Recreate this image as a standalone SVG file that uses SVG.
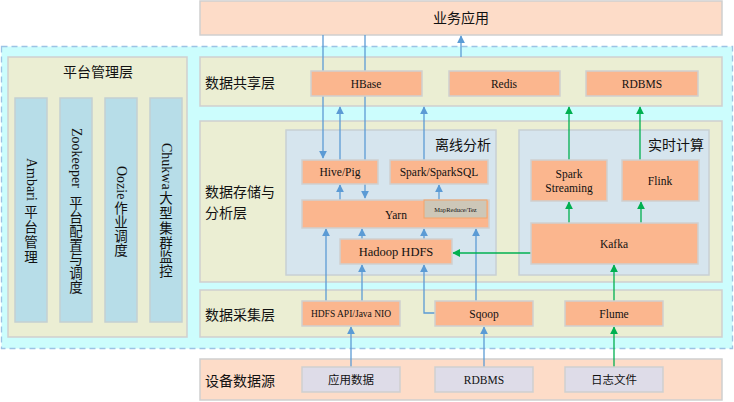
<svg xmlns="http://www.w3.org/2000/svg" width="734" height="402" viewBox="0 0 734 402">
<defs>
<marker id="ab" viewBox="0 0 10 10" refX="9" refY="5" markerWidth="8" markerHeight="8" markerUnits="userSpaceOnUse" orient="auto"><path d="M0,0 L10,5 L0,10 z" fill="#5b9bd5"/></marker>
<marker id="ag" viewBox="0 0 10 10" refX="9" refY="5" markerWidth="8" markerHeight="8" markerUnits="userSpaceOnUse" orient="auto"><path d="M0,0 L10,5 L0,10 z" fill="#00b050"/></marker>
</defs>
<style>
text{font-family:"Liberation Serif","Noto Sans CJK SC",serif;fill:#111;}
.peach{fill:#fddcc8;stroke:#cfcfcf;stroke-width:1.5}
.panel{fill:#ebeed3;stroke:#cfcfcf;stroke-width:1.5}
.inner{fill:#d6e5ee;stroke:#c8cfd4;stroke-width:1.5}
.box{fill:#fbb68e;stroke:#cfcfcf;stroke-width:1.5}
.src{fill:#dedce8;stroke:#cfcfcf;stroke-width:1.5}
.bar{fill:#b7dde8;stroke:#c4cfd2;stroke-width:1.5}
.lbl{font-size:11.5px;text-anchor:middle}
.layer{font-size:14px}
.rot{font-size:14px;dominant-baseline:central}
.cj{font-size:13.5px;text-anchor:middle;dominant-baseline:central}
.b{stroke:#5b9bd5;stroke-width:1.3;fill:none}
.g{stroke:#00b050;stroke-width:1.3;fill:none}
</style>
<rect x="1.5" y="46.5" width="731" height="302" fill="#ccfdfd" stroke="#9cc3e5" stroke-width="1.3" stroke-dasharray="6,4"/>
<g id="app"><rect class="peach" x="200" y="1" width="522" height="34"/><text x="461" y="23" class="layer" text-anchor="middle">业务应用</text></g>
<g id="mgmt">
<rect class="panel" x="8" y="57" width="179" height="280"/>
<text x="98" y="77" class="layer" text-anchor="middle">平台管理层</text>
<rect class="bar" x="15" y="98" width="32" height="224"/>
<rect class="bar" x="60" y="98" width="32" height="224"/>
<rect class="bar" x="105" y="98" width="32" height="224"/>
<rect class="bar" x="150" y="98" width="32" height="224"/>
<text class="rot" transform="translate(31,158) rotate(90)">Ambari</text>
<text class="cj"><tspan x="31" y="212">平</tspan><tspan x="31" y="227">台</tspan><tspan x="31" y="242">管</tspan><tspan x="31" y="257">理</tspan></text>
<text class="rot" transform="translate(76,128) rotate(90)">Zookeeper</text>
<text class="cj"><tspan x="76" y="203">平</tspan><tspan x="76" y="217">台</tspan><tspan x="76" y="231">配</tspan><tspan x="76" y="245">置</tspan><tspan x="76" y="259">与</tspan><tspan x="76" y="273">调</tspan><tspan x="76" y="287">度</tspan></text>
<text class="rot" transform="translate(121,166) rotate(90)">Oozie</text>
<text class="cj"><tspan x="121" y="208">作</tspan><tspan x="121" y="222">业</tspan><tspan x="121" y="236">调</tspan><tspan x="121" y="250">度</tspan></text>
<text class="rot" transform="translate(166,143) rotate(90)">Chukwa</text>
<text class="cj"><tspan x="166" y="198">大</tspan><tspan x="166" y="213">型</tspan><tspan x="166" y="228">集</tspan><tspan x="166" y="243">群</tspan><tspan x="166" y="257">监</tspan><tspan x="166" y="271">控</tspan></text>
</g>
<g id="share">
<rect class="panel" x="200" y="57" width="522" height="49"/>
<text x="205" y="88" class="layer">数据共享层</text>
</g>
<g id="store">
<rect class="panel" x="200" y="121" width="522" height="161"/>
<text x="205" y="197" class="layer">数据存储与</text>
<text x="205" y="218" class="layer">分析层</text>
</g>
<g id="offline"><rect class="inner" x="286" y="130" width="210" height="145"/><text x="491" y="150" class="layer" text-anchor="end">离线分析</text></g>
<g id="realtime"><rect class="inner" x="519" y="130" width="190" height="145"/><text x="704" y="150" class="layer" text-anchor="end">实时计算</text></g>
<g id="collect">
<rect class="panel" x="200" y="290" width="522" height="47"/>
<text x="205" y="320" class="layer">数据采集层</text>
</g>
<g id="source">
<rect class="peach" x="200" y="359" width="522" height="41"/>
<text x="205" y="386" class="layer">设备数据源</text>
</g>
<g id="connectors">
<path class="b" d="M323,35 V158" marker-end="url(#ab)"/>
<path class="b" d="M365,35 V198" marker-end="url(#ab)"/>
<path class="b" d="M340,160 V107" marker-end="url(#ab)"/>
<path class="b" d="M424,160 V107" marker-end="url(#ab)"/>
<path class="b" d="M461,57 V36" marker-end="url(#ab)"/>
<path class="b" d="M340,200 V185" marker-end="url(#ab)"/>
<path class="b" d="M439,200 V185" marker-end="url(#ab)"/>
<path class="b" d="M362,239 V229" marker-end="url(#ab)"/>
<path class="b" d="M424,239 V229" marker-end="url(#ab)"/>
<path class="b" d="M326,301 V229" marker-end="url(#ab)"/>
<path class="b" d="M476,301 V229" marker-end="url(#ab)"/>
<path class="b" d="M362,301 V265" marker-end="url(#ab)"/>
<path class="b" d="M435,313 H424 V265" marker-end="url(#ab)"/>
<path class="b" d="M351,367 V327" marker-end="url(#ab)"/>
<path class="b" d="M484,367 V327" marker-end="url(#ab)"/>
<path class="g" d="M569,160 V107" marker-end="url(#ag)"/>
<path class="g" d="M640,160 V107" marker-end="url(#ag)"/>
<path class="g" d="M569,223 V202" marker-end="url(#ag)"/>
<path class="g" d="M641,223 V202" marker-end="url(#ag)"/>
<path class="g" d="M531,253 H453" marker-end="url(#ag)"/>
<path class="g" d="M614,301 V265" marker-end="url(#ag)"/>
<path class="g" d="M614,367 V327" marker-end="url(#ag)"/>
</g>
<g id="hbase"><rect class="box" x="311" y="71" width="111" height="25"/><text class="lbl" x="366" y="87.5">HBase</text></g>
<g id="redis"><rect class="box" x="449" y="71" width="111" height="25"/><text class="lbl" x="504" y="87.5">Redis</text></g>
<g id="rdbms1"><rect class="box" x="586" y="71" width="112" height="25"/><text class="lbl" x="642" y="87.5">RDBMS</text></g>
<g id="hive"><rect class="box" x="302" y="160" width="76" height="24"/><text class="lbl" x="340" y="176">Hive/Pig</text></g>
<g id="sparksql"><rect class="box" x="390" y="160" width="98" height="24"/><text class="lbl" x="439" y="176">Spark/SparkSQL</text></g>
<g id="yarn"><rect class="box" x="302" y="200" width="187" height="28"/><text class="lbl" x="396" y="219">Yarn</text>
<rect x="424" y="200" width="63" height="18" fill="#cdc7b8" stroke="#f4a46a" stroke-width="1"/><text x="455.5" y="212" font-size="6.5" text-anchor="middle">MapReduce/Tez</text></g>
<g id="hdfs"><rect class="box" x="340" y="239" width="112" height="25"/><text x="396" y="256" font-size="12.5" text-anchor="middle">Hadoop HDFS</text></g>
<g id="sparkstreaming"><rect class="box" x="531" y="160" width="76" height="41"/><text class="lbl" x="569" y="178">Spark</text><text class="lbl" x="569" y="192">Streaming</text></g>
<g id="flink"><rect class="box" x="622" y="160" width="77" height="41"/><text class="lbl" x="660" y="185">Flink</text></g>
<g id="kafka"><rect class="box" x="531" y="223" width="167" height="41"/><text class="lbl" x="614" y="248">Kafka</text></g>
<g id="hdfsapi"><rect class="box" x="302" y="301" width="98" height="25"/><text x="351" y="317" font-size="9.5" text-anchor="middle">HDFS API/Java NIO</text></g>
<g id="sqoop"><rect class="box" x="435" y="301" width="98" height="25"/><text class="lbl" x="484" y="318">Sqoop</text></g>
<g id="flume"><rect class="box" x="565" y="301" width="98" height="25"/><text class="lbl" x="614" y="318">Flume</text></g>
<g id="appdata"><rect class="src" x="302" y="367" width="98" height="25"/><text class="lbl" x="351" y="384">应用数据</text></g>
<g id="rdbms2"><rect class="src" x="435" y="367" width="98" height="25"/><text class="lbl" x="484" y="384">RDBMS</text></g>
<g id="logs"><rect class="src" x="565" y="367" width="98" height="25"/><text class="lbl" x="614" y="384">日志文件</text></g>
</svg>
